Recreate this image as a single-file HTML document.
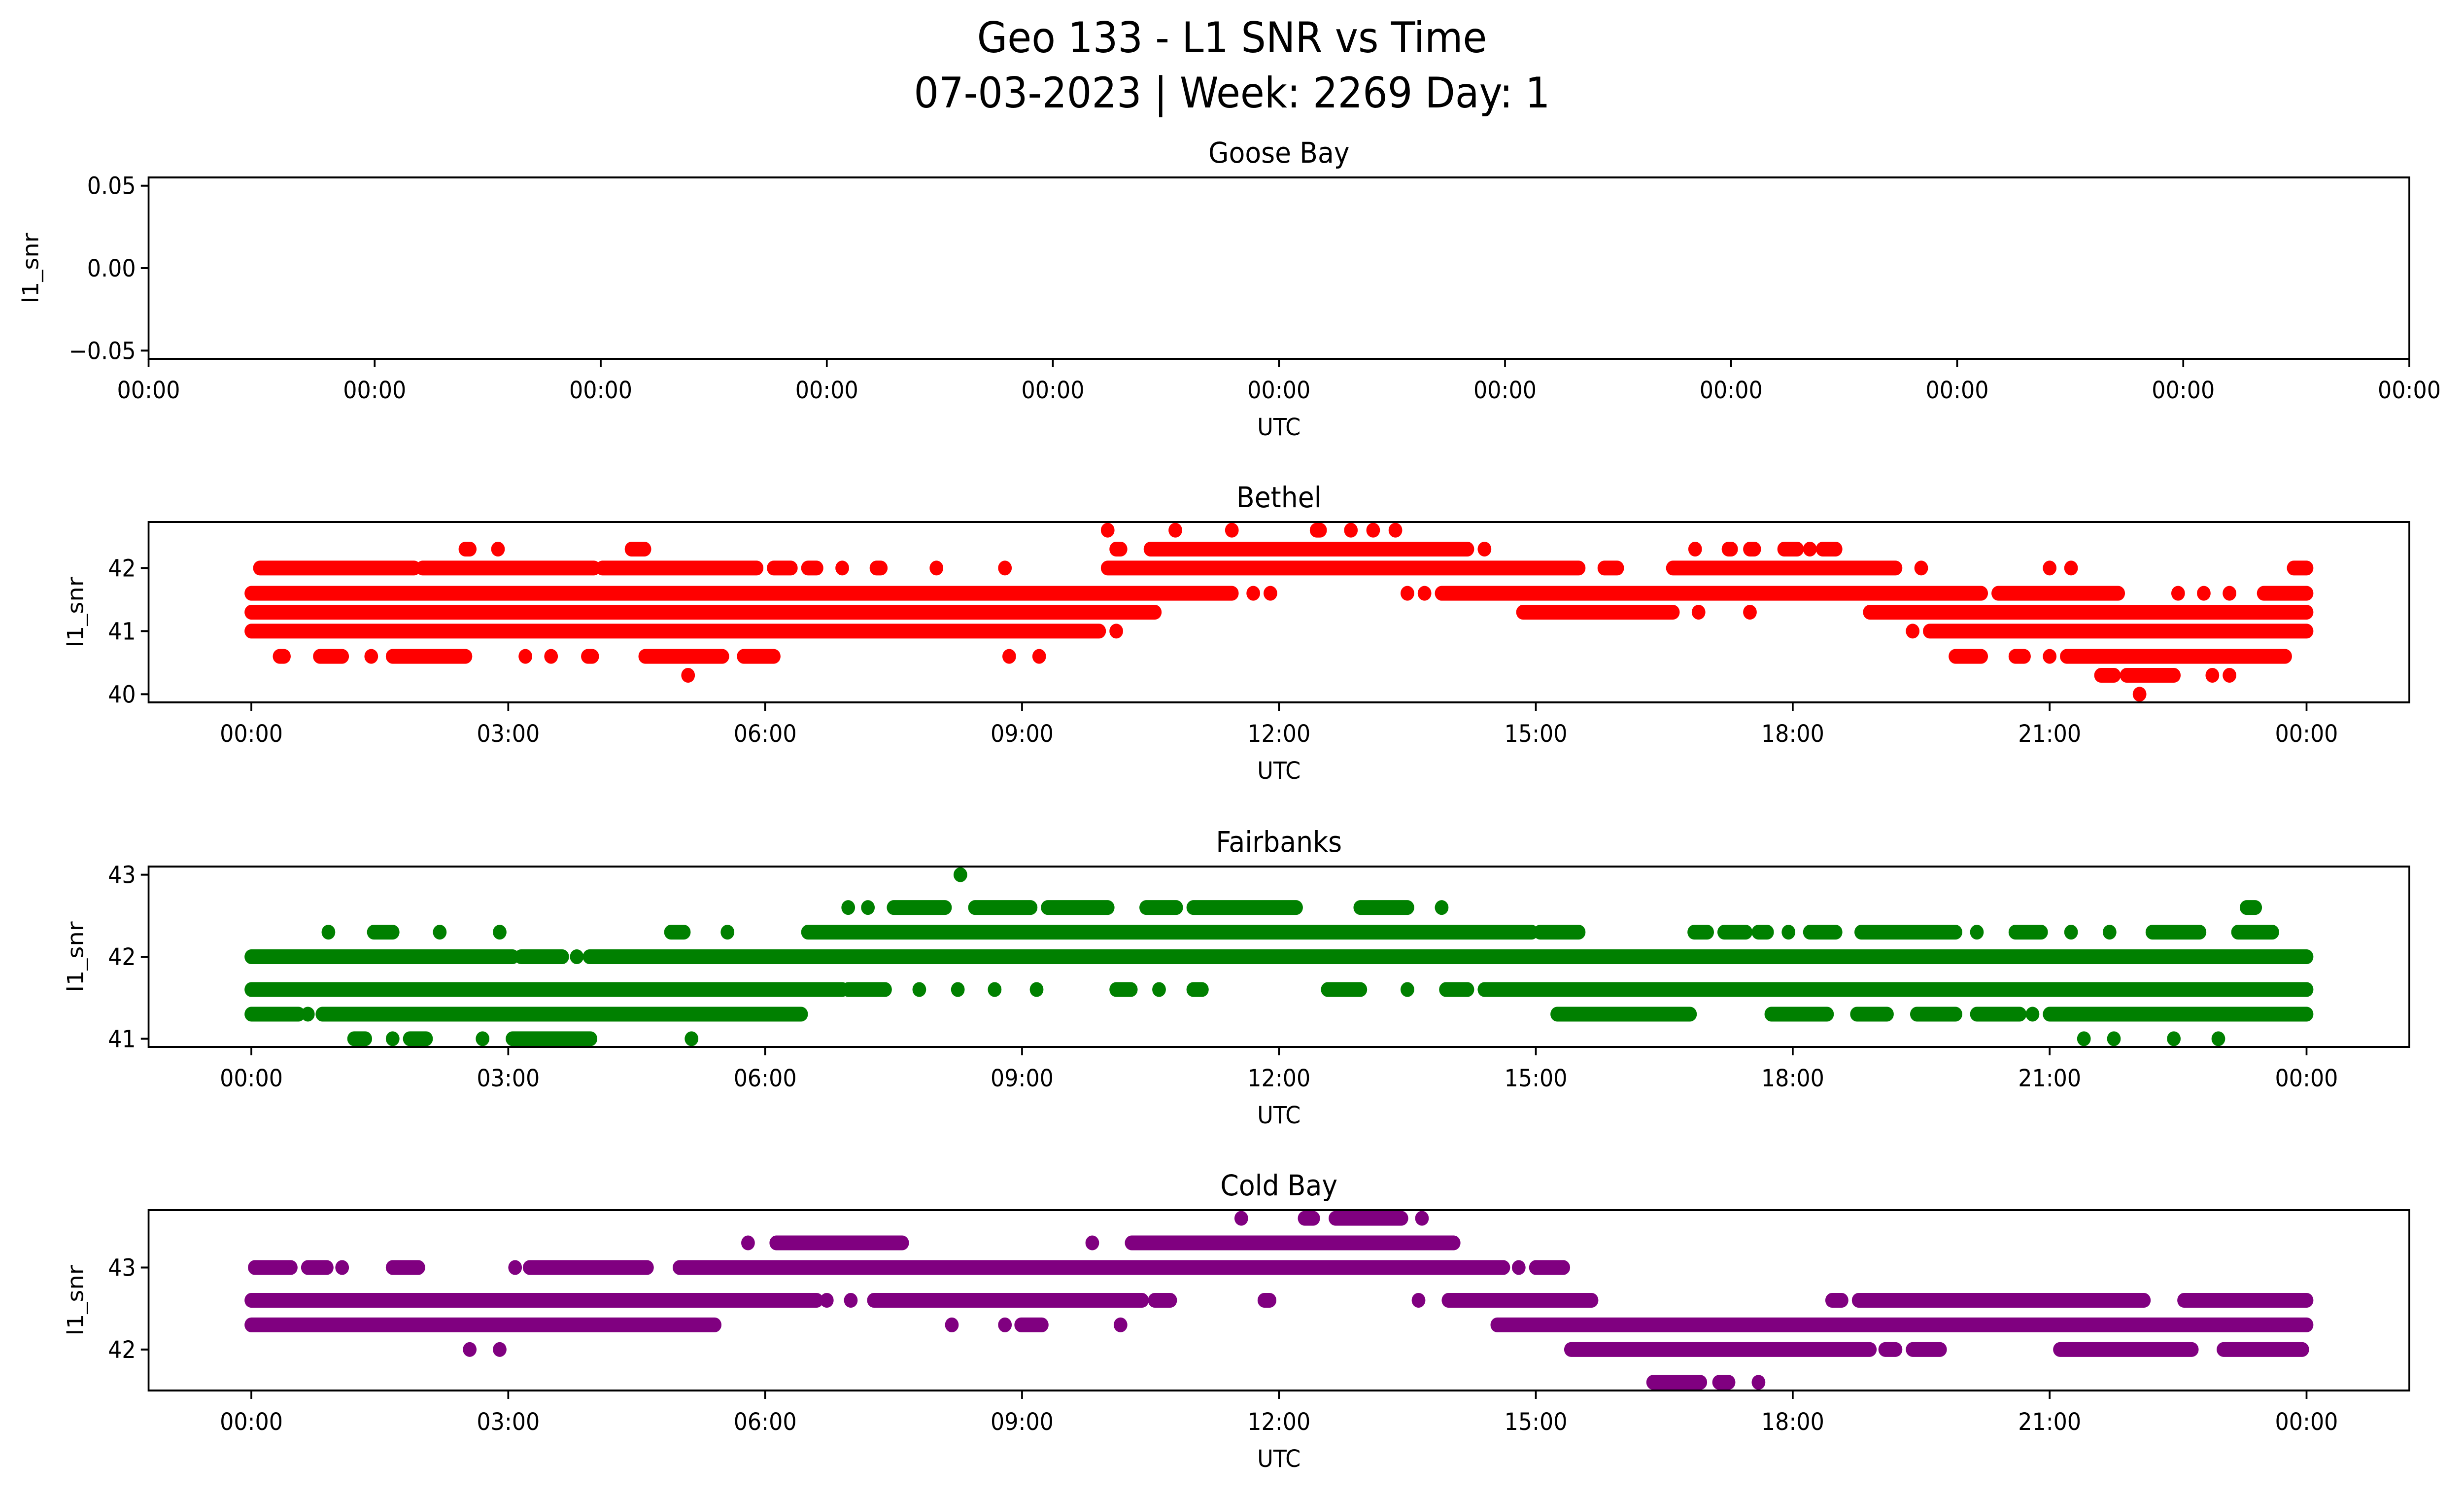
<!DOCTYPE html>
<html><head><meta charset="utf-8"><style>
html,body{margin:0;padding:0;background:#fff;overflow:hidden;width:100%;height:100%;}
svg{display:block;position:absolute;left:0;top:0;width:100vw;height:100vh;font-family:"DejaVu Sans","Liberation Sans",sans-serif;}
</style></head><body>
<svg id="fig" viewBox="0 0 5406 3033" preserveAspectRatio="none" xmlns="http://www.w3.org/2000/svg">
<rect width="5406" height="3033" fill="#fff"/>
<text x="2703" y="106" font-size="86" text-anchor="middle">Geo 133 - L1 SNR vs Time</text>
<text x="2703" y="218" font-size="86" text-anchor="middle">07-03-2023 | Week: 2269 Day: 1</text>
</svg>
<script>
// ---- data: runs as [level, startHour, endHour] ----
const hourTicks = [0,3,6,9,12,15,18,21,24];
const hourTickLabels = ["00:00","03:00","06:00","09:00","12:00","15:00","18:00","21:00","00:00"];
const gooseTickLabels = ["00:00","00:00","00:00","00:00","00:00","00:00","00:00","00:00","00:00","00:00","00:00"];
const gooseYTicks = [0.05, 0, -0.05];
const gooseYTickLabels = ["0.05","0.00","\u22120.05"];
const bethelYTicks = [40,41,42];
const fairbanksYTicks = [41,42,43];
const coldbayYTicks = [42,43];
const bethelRuns = [
 [42.6,10.0,10.0],[42.6,10.79,10.79],[42.6,11.45,11.45],[42.6,12.44,12.48],[42.6,12.84,12.84],[42.6,13.1,13.1],[42.6,13.36,13.36],
 [42.3,2.5,2.55],[42.3,2.88,2.88],[42.3,4.44,4.59],[42.3,10.1,10.15],[42.3,10.5,14.2],[42.3,14.4,14.4],[42.3,16.86,16.86],[42.3,17.25,17.28],[42.3,17.5,17.55],[42.3,17.9,18.05],[42.3,18.2,18.2],[42.3,18.35,18.5],
 [42,0.1,1.9],[42,2.0,4.0],[42,4.1,5.9],[42,6.1,6.3],[42,6.5,6.6],[42,6.9,6.9],[42,7.3,7.35],[42,8.0,8.0],[42,8.8,8.8],[42,10.0,15.5],[42,15.8,15.95],[42,16.6,19.2],[42,19.5,19.5],[42,21.0,21.0],[42,21.25,21.25],[42,23.85,24],
 [41.6,0,11.45],[41.6,11.7,11.7],[41.6,11.9,11.9],[41.6,13.5,13.5],[41.6,13.7,13.7],[41.6,13.9,20.2],[41.6,20.4,21.8],[41.6,22.5,22.5],[41.6,22.8,22.8],[41.6,23.1,23.1],[41.6,23.5,24],
 [41.3,0,10.55],[41.3,14.85,16.6],[41.3,16.9,16.9],[41.3,17.5,17.5],[41.3,18.9,24],
 [41,0,9.9],[41,10.1,10.1],[41,19.4,19.4],[41,19.6,24],
 [40.6,0.33,0.38],[40.6,0.8,1.06],[40.6,1.4,1.4],[40.6,1.65,2.5],[40.6,3.2,3.2],[40.6,3.5,3.5],[40.6,3.93,3.98],[40.6,4.6,5.5],[40.6,5.75,6.1],[40.6,8.85,8.85],[40.6,9.2,9.2],[40.6,19.9,20.2],[40.6,20.6,20.7],[40.6,21.0,21.0],[40.6,21.2,23.75],
 [40.3,5.1,5.1],[40.3,21.6,21.75],[40.3,21.9,22.45],[40.3,22.9,22.9],[40.3,23.1,23.1],
 [40,22.05,22.05]
];
const fairbanksRuns = [
 [43,8.28,8.28],
 [42.6,6.97,6.97],[42.6,7.2,7.2],[42.6,7.5,8.1],[42.6,8.45,9.1],[42.6,9.3,10.0],[42.6,10.45,10.8],[42.6,11.0,12.2],[42.6,12.95,13.5],[42.6,13.9,13.9],[42.6,23.3,23.4],
 [42.3,0.9,0.9],[42.3,1.43,1.65],[42.3,2.2,2.2],[42.3,2.9,2.9],[42.3,4.9,5.05],[42.3,5.56,5.56],[42.3,6.5,14.95],[42.3,15.05,15.5],[42.3,16.85,17.0],[42.3,17.2,17.45],[42.3,17.6,17.7],[42.3,17.95,17.95],[42.3,18.2,18.5],[42.3,18.8,19.9],[42.3,20.15,20.15],[42.3,20.6,20.9],[42.3,21.25,21.25],[42.3,21.7,21.7],[42.3,22.2,22.75],[42.3,23.2,23.6],
 [42,0,3.05],[42,3.15,3.63],[42,3.8,3.8],[42,3.95,24],
 [41.6,0,6.9],[41.6,6.97,7.4],[41.6,7.8,7.8],[41.6,8.25,8.25],[41.6,8.68,8.68],[41.6,9.17,9.17],[41.6,10.1,10.27],[41.6,10.6,10.6],[41.6,11.0,11.1],[41.6,12.57,12.95],[41.6,13.5,13.5],[41.6,13.95,14.2],[41.6,14.4,24],
 [41.3,0,0.55],[41.3,0.66,0.66],[41.3,0.83,6.42],[41.3,15.25,16.8],[41.3,17.75,18.4],[41.3,18.75,19.1],[41.3,19.45,19.9],[41.3,20.15,20.65],[41.3,20.8,20.8],[41.3,21.0,24],
 [41,1.2,1.33],[41,1.65,1.65],[41,1.85,2.04],[41,2.7,2.7],[41,3.05,3.96],[41,5.14,5.14],[41,21.4,21.4],[41,21.75,21.75],[41,22.45,22.45],[41,22.97,22.97]
];
const coldbayRuns = [
 [43.6,11.56,11.56],[43.6,12.3,12.4],[43.6,12.66,13.43],[43.6,13.67,13.67],
 [43.3,5.8,5.8],[43.3,6.13,7.6],[43.3,9.82,9.82],[43.3,10.28,14.04],
 [43,0.04,0.46],[43,0.66,0.88],[43,1.06,1.06],[43,1.65,1.95],[43,3.08,3.08],[43,3.25,4.62],[43,5.0,14.62],[43,14.8,14.8],[43,15.0,15.32],
 [42.6,0,6.6],[42.6,6.72,6.72],[42.6,7.0,7.0],[42.6,7.27,10.4],[42.6,10.55,10.73],[42.6,11.83,11.89],[42.6,13.63,13.63],[42.6,13.98,15.65],[42.6,18.46,18.57],[42.6,18.77,22.1],[42.6,22.57,24],
 [42.3,0,5.41],[42.3,8.18,8.18],[42.3,8.8,8.8],[42.3,8.99,9.23],[42.3,10.15,10.15],[42.3,14.55,24],
 [42,2.55,2.55],[42,2.9,2.9],[42,15.41,18.9],[42,19.08,19.2],[42,19.4,19.72],[42,21.12,22.66],[42,23.03,23.95],
 [41.6,16.37,16.92],[41.6,17.14,17.25],[41.6,17.6,17.6]
];
// ---- layout ----
const NS = "http://www.w3.org/2000/svg";
const svg = document.getElementById('fig');
const AX_L = 326, AX_R = 5286;
const X_MIN = -1.2, X_MAX = 25.2;
function xScale(h){ return AX_L + (h - X_MIN) / (X_MAX - X_MIN) * (AX_R - AX_L); }
function mk(tag, attrs, parent){
  const e = document.createElementNS(NS, tag);
  for (const k in attrs) e.setAttribute(k, attrs[k]);
  (parent || svg).appendChild(e);
  return e;
}
function panel(name, top, bottom, yMin, yMax, yTicks, yLabels, runs, color, xTicksPos, xLabels, ylabelX){
  const g = mk('g', {});
  
  
  const yScale = v => bottom - (v - yMin) / (yMax - yMin) * (bottom - top);
  const dg = mk('g', {}, g);
  
  
  runs.forEach(r => {
    const y = yScale(r[0]);
    const l = mk('line', {x1: xScale(r[1]), x2: xScale(r[2]), y1: y, y2: y, stroke: color, 'stroke-width': 30, 'stroke-linecap': 'round'}, dg);
    
    
  });
  const fr = mk('rect', {x: AX_L, y: top, width: AX_R - AX_L, height: bottom - top, fill: 'none', stroke: '#000', 'stroke-width': 4}, g);
  
  
  yTicks.forEach((v, i) => {
    const y = yScale(v);
    mk('line', {x1: AX_L - 17, x2: AX_L, y1: y, y2: y, stroke: '#000', 'stroke-width': 4}, g);
    const t = mk('text', {x: AX_L - 28, y: y + 17, 'font-size': 48, 'text-anchor': 'end'}, g);
    t.textContent = yLabels[i];
    
    
  });
  xTicksPos.forEach((px, i) => {
    mk('line', {x1: px, x2: px, y1: bottom, y2: bottom + 17, stroke: '#000', 'stroke-width': 4}, g);
    const t = mk('text', {x: px, y: bottom + 80, 'font-size': 48, 'text-anchor': 'middle'}, g);
    t.textContent = xLabels[i];
    
    
  });
  const xl = mk('text', {x: (AX_L + AX_R) / 2, y: bottom + 155, 'font-size': 48, 'text-anchor': 'middle'}, g);
  xl.textContent = 'UTC';
  
  
  const cy = (top + bottom) / 2;
  const yl = mk('text', {x: ylabelX, y: cy, 'font-size': 48, 'text-anchor': 'middle', transform: 'rotate(-90 ' + ylabelX + ' ' + cy + ')'}, g);
  yl.textContent = 'l1_snr';
  
  
  const tt = mk('text', {x: (AX_L + AX_R) / 2, y: top - 30, 'font-size': 58, 'text-anchor': 'middle'}, g);
  tt.textContent = panel.titles[name];
  
  
}
panel.titles = {'goose-bay': 'Goose Bay', 'bethel': 'Bethel', 'fairbanks': 'Fairbanks', 'cold-bay': 'Cold Bay'};
const hourPx = hourTicks.map(xScale);
const goosePx = gooseTickLabels.map((_, i) => AX_L + i * (AX_R - AX_L) / 10);
panel('goose-bay', 360, 728, -0.055, 0.055, gooseYTicks, gooseYTickLabels, [], '#000', goosePx, gooseTickLabels, 84);
panel('bethel', 1059, 1425, 39.87, 42.73, bethelYTicks, bethelYTicks.map(String), bethelRuns, '#ff0000', hourPx, hourTickLabels, 182);
panel('fairbanks', 1758, 2124, 40.9, 43.1, fairbanksYTicks, fairbanksYTicks.map(String), fairbanksRuns, '#008000', hourPx, hourTickLabels, 182);
panel('cold-bay', 2455, 2821, 41.5, 43.7, coldbayYTicks, coldbayYTicks.map(String), coldbayRuns, '#800080', hourPx, hourTickLabels, 182);
</script>
</body></html>
